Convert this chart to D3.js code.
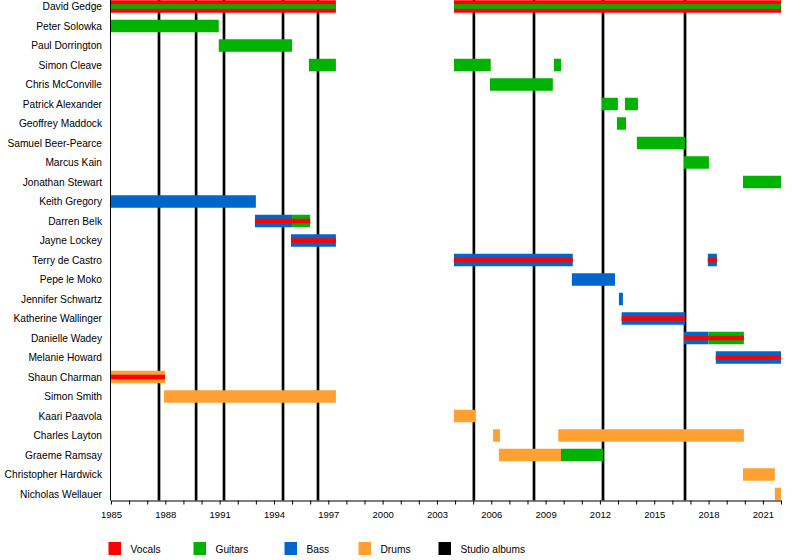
<!DOCTYPE html>
<html>
<head>
<meta charset="utf-8">
<script src="https://cdn.jsdelivr.net/npm/d3@7"></script>
<style>
    body { margin: 0; background: #fff; }
    svg { display: block; font-family: "Liberation Sans", Arial, sans-serif; }
</style>
</head>
<body>
<svg id="grafico" width="800" height="560"></svg>
<script>

const members = [
    "David Gedge", "Peter Solowka", "Paul Dorrington", "Simon Cleave",
    "Chris McConville", "Patrick Alexander", "Geoffrey Maddock",
    "Samuel Beer-Pearce", "Marcus Kain", "Jonathan Stewart", "Keith Gregory",
    "Darren Belk", "Jayne Lockey", "Terry de Castro", "Pepe le Moko",
    "Jennifer Schwartz", "Katherine Wallinger", "Danielle Wadey",
    "Melanie Howard", "Shaun Charman", "Simon Smith", "Kaari Paavola",
    "Charles Layton", "Graeme Ramsay", "Christopher Hardwick", "Nicholas Wellauer"
];

// member, from, to, main role, stripe role
const spells = [
    ["David Gedge", 1985, 1997.42, "Vocals", "Guitars"],
    ["David Gedge", 2003.94, 2022, "Vocals", "Guitars"],
    ["Peter Solowka", 1985, 1990.95, "Guitars", null],
    ["Paul Dorrington", 1990.95, 1995.0, "Guitars", null],
    ["Simon Cleave", 1995.93, 1997.42, "Guitars", null],
    ["Simon Cleave", 2003.94, 2005.97, "Guitars", null],
    ["Simon Cleave", 2009.46, 2009.85, "Guitars", null],
    ["Chris McConville", 2005.93, 2009.4, "Guitars", null],
    ["Patrick Alexander", 2012.11, 2012.99, "Guitars", null],
    ["Patrick Alexander", 2013.38, 2014.1, "Guitars", null],
    ["Geoffrey Maddock", 2012.94, 2013.44, "Guitars", null],
    ["Samuel Beer-Pearce", 2014.04, 2016.7, "Guitars", null],
    ["Marcus Kain", 2016.64, 2018.02, "Guitars", null],
    ["Jonathan Stewart", 2019.9, 2022, "Guitars", null],
    ["Keith Gregory", 1985, 1993.0, "Bass", null],
    ["Darren Belk", 1992.95, 1995.0, "Bass", "Vocals"],
    ["Darren Belk", 1995.0, 1996.0, "Guitars", "Vocals"],
    ["Jayne Lockey", 1994.94, 1997.42, "Bass", "Vocals"],
    ["Terry de Castro", 2003.94, 2010.5, "Bass", "Vocals"],
    ["Terry de Castro", 2017.96, 2018.46, "Bass", "Vocals"],
    ["Pepe le Moko", 2010.45, 2012.83, "Bass", null],
    ["Jennifer Schwartz", 2013.05, 2013.27, "Bass", null],
    ["Katherine Wallinger", 2013.2, 2016.7, "Bass", "Vocals"],
    ["Danielle Wadey", 2016.64, 2018.0, "Bass", "Vocals"],
    ["Danielle Wadey", 2018.0, 2019.95, "Guitars", "Vocals"],
    ["Melanie Howard", 2018.4, 2022, "Bass", "Vocals"],
    ["Shaun Charman", 1985, 1987.98, "Drums", "Vocals"],
    ["Simon Smith", 1987.93, 1997.42, "Drums", null],
    ["Kaari Paavola", 2003.94, 2005.15, "Drums", null],
    ["Charles Layton", 2006.1, 2006.48, "Drums", null],
    ["Charles Layton", 2009.7, 2019.95, "Drums", null],
    ["Graeme Ramsay", 2006.42, 2009.85, "Drums", null],
    ["Graeme Ramsay", 2009.85, 2012.17, "Guitars", null],
    ["Christopher Hardwick", 2019.9, 2021.66, "Drums", null],
    ["Nicholas Wellauer", 2021.66, 2022, "Drums", null]
];

const albums = [1987.65, 1989.7, 1991.24, 1994.5, 1996.43, 2005.04, 2008.36, 2012.17, 2016.7];

const tickYears = d3.range(1985, 2023);
const labelYears = d3.range(1985, 2023, 3);

const roles = ["Vocals", "Guitars", "Bass", "Drums", "Studio albums"];
const roleColors = ["#ff0000", "#00b300", "#0066cc", "#ffa033", "#000000"];

dibujar();

function dibujar() {

    const svg = d3.select("#grafico");

    const x = d3.scaleLinear()
        .domain([1985, 2022])
        .range([111, 781]);

    const y = d3.scalePoint()
        .domain(members)
        .range([6.5, 494]);

    const color = d3.scaleOrdinal()
        .domain(roles)
        .range(roleColors);

    const barH = 12.5;
    const stripeH = 4.6;
    const axisY = 500.5;

    // studio albums (behind the bars)
    svg.selectAll("line.album")
        .data(albums)
        .enter()
        .append("line")
        .attr("class", "album")
        .attr("x1", d => x(d))
        .attr("x2", d => x(d))
        .attr("y1", 0)
        .attr("y2", axisY)
        .attr("stroke", color("Studio albums"))
        .attr("stroke-width", 2.7);

    svg.selectAll("rect.spell")
        .data(spells)
        .enter()
        .append("rect")
        .attr("class", "spell")
        .attr("x", d => x(d[1]))
        .attr("y", d => y(d[0]) - barH / 2)
        .attr("width", d => x(d[2]) - x(d[1]))
        .attr("height", barH)
        .attr("fill", d => color(d[3]));

    svg.selectAll("rect.stripe")
        .data(spells.filter(d => d[4]))
        .enter()
        .append("rect")
        .attr("class", "stripe")
        .attr("x", d => x(d[1]))
        .attr("y", d => y(d[0]) - stripeH / 2)
        .attr("width", d => x(d[2]) - x(d[1]))
        .attr("height", stripeH)
        .attr("fill", d => color(d[4]));

    // member names
    svg.selectAll("text.nombre")
        .data(members)
        .enter()
        .append("text")
        .attr("class", "nombre")
        .attr("x", 102)
        .attr("y", d => y(d))
        .attr("dy", "0.35em")
        .attr("text-anchor", "end")
        .style("font-size", "10.2px")
        .text(d => d);

    // left line
    svg.append("line")
        .attr("x1", 110.5)
        .attr("x2", 110.5)
        .attr("y1", 0)
        .attr("y2", axisY)
        .attr("stroke", "#000");

    const eje = svg.append("g")
        .attr("transform", `translate(0,${axisY})`)
        .call(d3.axisBottom(x)
            .tickValues(tickYears)
            .tickSize(4)
            .tickSizeOuter(0)
            .tickPadding(7)
            .tickFormat(d => labelYears.includes(d) ? String(d) : ""));

    eje.selectAll("text")
        .style("font-size", "9.5px")
        .style("font-family", '"Liberation Sans", Arial, sans-serif')
        .attr("fill", "#000");

    // legend
    const legendX = [108.5, 193.5, 284.5, 358.5, 438.5];

    roles.forEach((item, i) => {

        svg.append("rect")
            .attr("x", legendX[i])
            .attr("y", 542)
            .attr("width", 12.5)
            .attr("height", 13)
            .attr("fill", color(item));

        svg.append("text")
            .attr("x", legendX[i] + 22)
            .attr("y", 549)
            .attr("dy", "0.35em")
            .style("font-size", "10.2px")
            .text(item);

    });

}
</script>
</body>
</html>
